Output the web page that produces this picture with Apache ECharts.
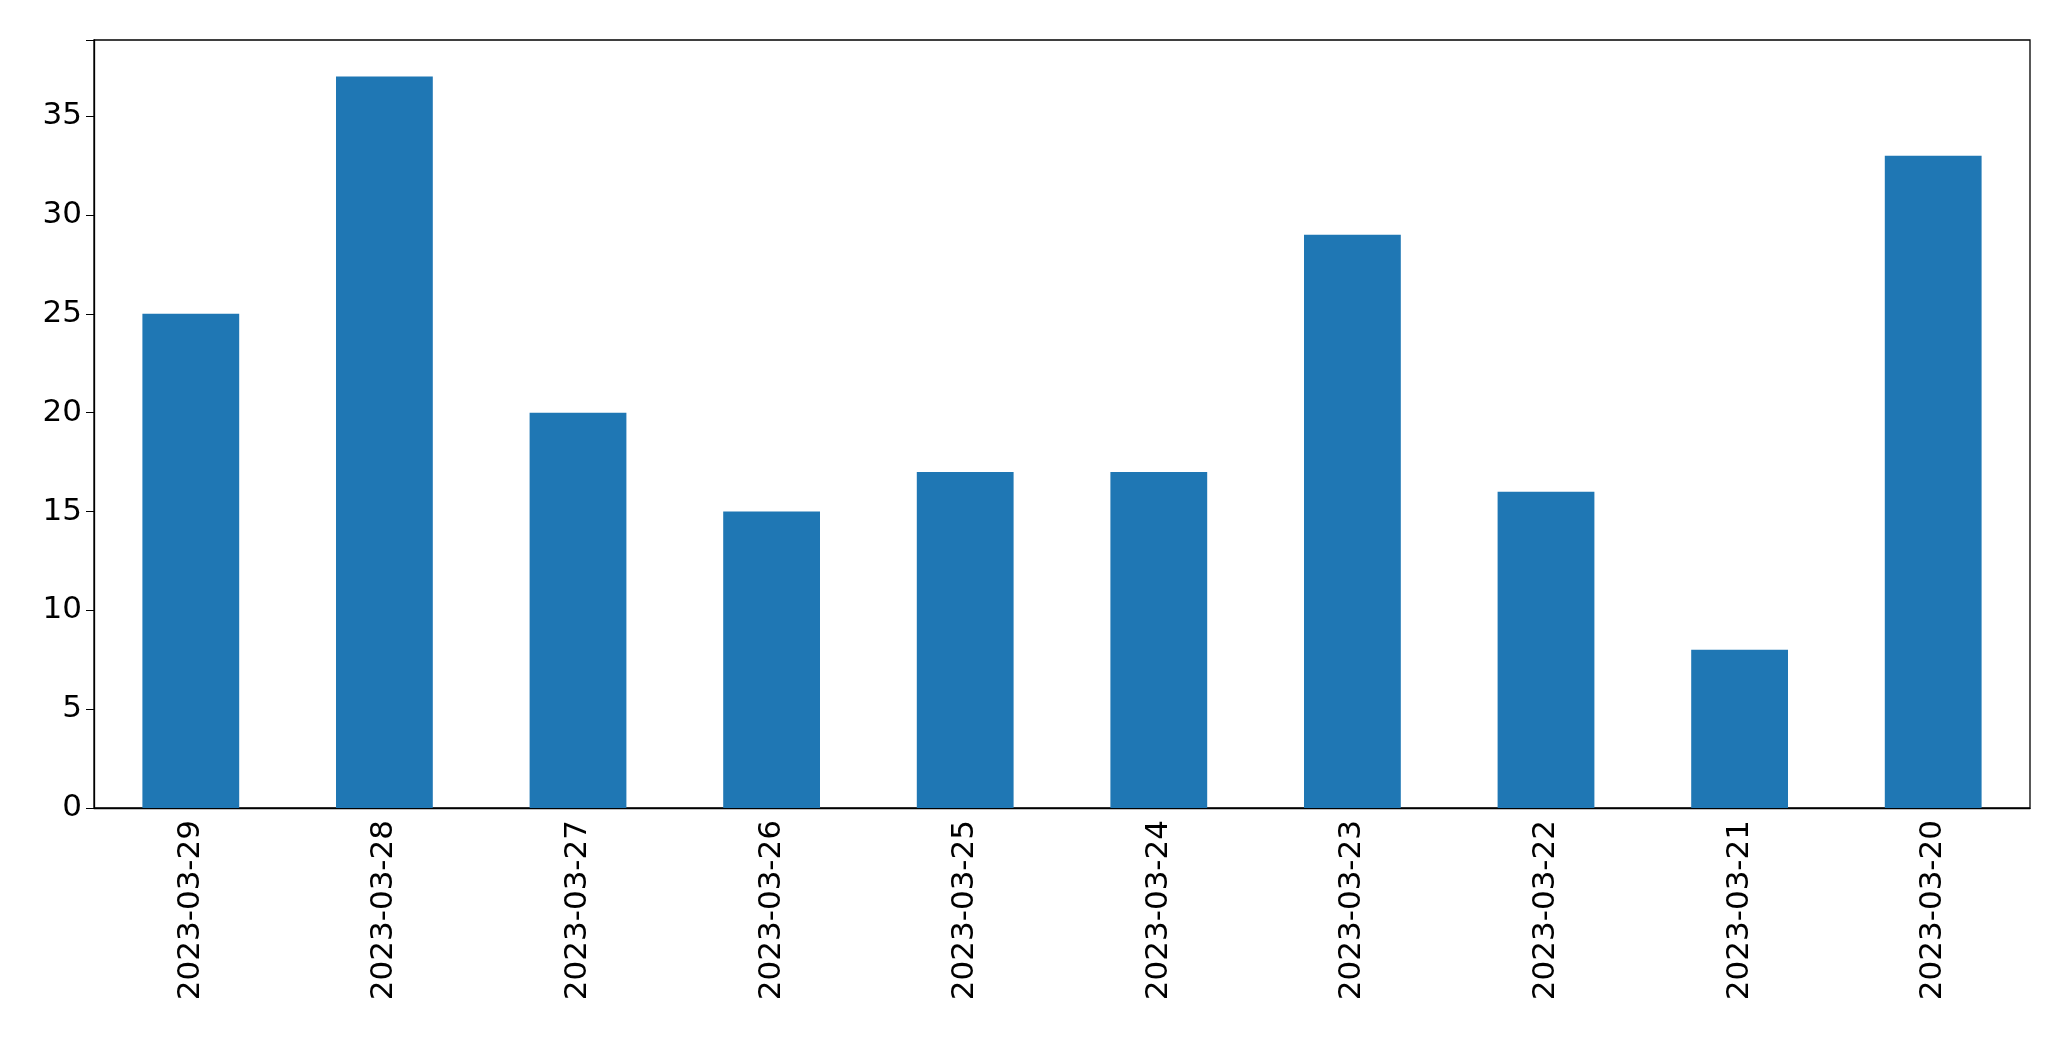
<!DOCTYPE html>
<html><head><meta charset="utf-8">
<script src="https://cdn.jsdelivr.net/npm/echarts@6/dist/echarts.min.js"></script>
<style>html,body{margin:0;padding:0;background:#fff}#c{width:2071px;height:1061px}</style>
</head><body><div id="c"></div>
<script>
const categories = ['2023-03-29','2023-03-28','2023-03-27','2023-03-26','2023-03-25','2023-03-24','2023-03-23','2023-03-22','2023-03-21','2023-03-20'];
const values = [25,37,20,15,17,17,29,16,8,33];
const yTicks = [0,5,10,15,20,25,30,35];
const chart = echarts.init(document.getElementById('c'));
chart.setOption({
  animation:false,
  grid:{left:94,right:41,top:40,bottom:253,show:true,borderColor:'#000',borderWidth:1.3},
  xAxis:{type:'category',data:categories,
    axisLine:{lineStyle:{color:'#000',width:1.3}},
    axisTick:{alignWithLabel:true,length:8,lineStyle:{color:'#000'}},
    axisLabel:{rotate:90,fontSize:31,color:'#000',fontFamily:'DejaVu Sans',margin:12}},
  yAxis:{type:'value',min:0,max:38.85,interval:5,
    axisLine:{show:true,lineStyle:{color:'#000',width:1.3}},
    axisTick:{show:true,length:8,lineStyle:{color:'#000'}},
    splitLine:{show:false},
    axisLabel:{fontSize:31,color:'#000',fontFamily:'DejaVu Sans',margin:12,
      formatter:v=>yTicks.includes(v)?String(v):''}},
  series:[{type:'bar',data:values,barWidth:'50%',itemStyle:{color:'#1f77b4'}}]
});
</script></body></html>
